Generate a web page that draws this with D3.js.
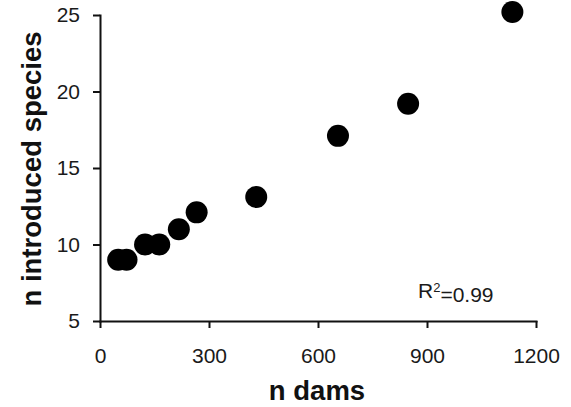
<!DOCTYPE html>
<html lang="en">
<head>
<meta charset="UTF-8">
<title>n introduced species vs n dams</title>
<script src="https://cdnjs.cloudflare.com/ajax/libs/d3/7.8.5/d3.min.js"></script>
<style>
    body {
        margin: 0;
        background: #fff;
    }
    svg {
        display: block;
        font-family: 'Liberation Sans', Arial, sans-serif;
    }
    .axis path, .axis line {
        stroke: #111;
        stroke-width: 2px;
    }
    .axis text {
        fill: #1a1a1a;
        font-family: 'Liberation Sans', Arial, sans-serif;
        font-size: 21px;
    }
    .axis-title {
        fill: #111;
        font-size: 27.5px;
        font-weight: bold;
    }
</style>
</head>
<body>
<div id="chart"></div>

<script>
// values
const dams = [50, 73, 124, 163, 217, 266, 430, 655, 848, 1135];
const species = [9, 9, 10, 10, 11, 12.1, 13.1, 17.1, 19.2, 25.2];
const xTicks = [0, 300, 600, 900, 1200];
const yTicks = [5, 10, 15, 20, 25];
const rSquared = "0.99";

const width = 571, height = 407;

const svg = d3.select("#chart")
    .append("svg")
    .attr("width", width)
    .attr("height", height);

const x = d3.scaleLinear().domain([0, 1200]).range([100, 536]);
const y = d3.scaleLinear().domain([5, 25]).range([321, 15]);

// x axis
const xAxis = svg.append("g")
    .attr("class", "axis")
    .attr("transform", `translate(0,${y(5)})`)
    .call(d3.axisBottom(x).tickValues(xTicks).tickFormat(d3.format("d"))
        .tickSize(7).tickSizeOuter(0).tickPadding(20));
xAxis.selectAll("text").attr("dy", "0.71em");

// y axis
const yAxis = svg.append("g")
    .attr("class", "axis")
    .attr("transform", `translate(${x(0)},0)`)
    .call(d3.axisLeft(y).tickValues(yTicks).tickFormat(d3.format("d"))
        .tickSize(7).tickSizeOuter(0).tickPadding(13));

svg.selectAll(".axis").attr("font-size", null).attr("font-family", null);
svg.selectAll(".axis .domain").attr("stroke-linecap", "square");

// points
const points = dams.map((d, i) => ({ dams: d, species: species[i] }));
svg.append("g")
    .selectAll("circle")
    .data(points)
    .enter()
    .append("circle")
    .attr("cx", d => x(d.dams))
    .attr("cy", d => y(d.species))
    .attr("r", 11)
    .attr("fill", "#000");

// axis titles
svg.append("text")
    .attr("class", "axis-title")
    .attr("x", 317)
    .attr("y", 400)
    .attr("text-anchor", "middle")
    .text("n dams");

svg.append("text")
    .attr("class", "axis-title")
    .attr("transform", "translate(41,169) rotate(-90)")
    .attr("text-anchor", "middle")
    .text("n introduced species");

// R squared note
const note = svg.append("text")
    .attr("x", 418)
    .attr("y", 298)
    .style("font-size", "21px")
    .style("fill", "#1a1a1a");
note.append("tspan").text("R");
note.append("tspan").attr("dy", "-0.45em").style("font-size", "13px").text("2");
note.append("tspan").attr("dy", "0.45em").text("=" + rSquared);
</script>
</body>
</html>
